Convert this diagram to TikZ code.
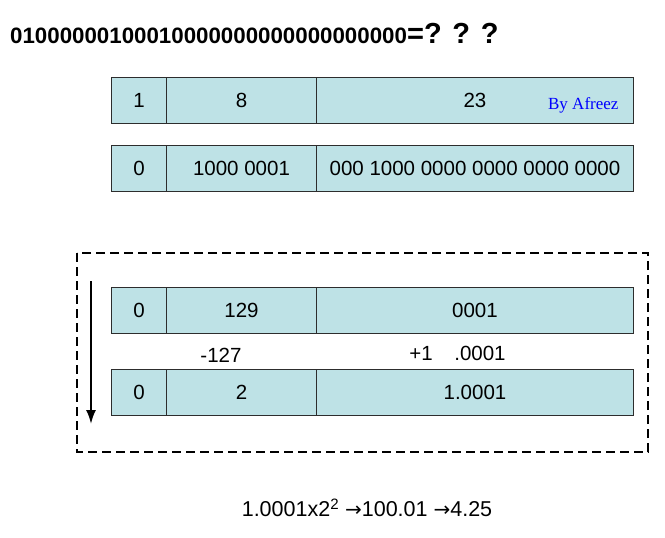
\documentclass[tikz,border=0pt]{standalone}
\usepackage{fontspec}
\setmainfont{Liberation Sans}
\newfontfamily\byfont{Liberation Serif}
\newfontfamily\arrowfont{DejaVu Sans}
\usetikzlibrary{arrows,arrows.meta}

\definecolor{cellblue}{RGB}{190,226,230}
\definecolor{celledge}{RGB}{45,45,45}

\begin{document}
\begin{tikzpicture}[>=latex,x=1pt,y=-1pt,
	cell/.style={draw=celledge,fill=cellblue,line width=1pt,inner sep=0pt,
		minimum height=46pt,anchor=north west,font=\fontsize{20.5}{24}\selectfont},
	note/.style={font=\fontsize{20.5}{24}\selectfont}]

\useasboundingbox (0,0) rectangle (665,538);

% title
\node[anchor=west,inner sep=0pt] (title) at (10,33)
	{\fontsize{22.3}{26}\bfseries\selectfont 01000000100010000000000000000000\fontsize{29}{31}\selectfont=? ? ?};

% the four rows: sign, exponent, mantissa
\foreach \r/\y/\s/\e/\m in {a/77/1/8/23,
		b/145/0/1000 0001/000 1000 0000 0000 0000 0000,
		c/287/0/129/0001,
		d/369/0/2/1.0001}{
	\node[cell,minimum width=55pt] (\r-s) at (111,\y) {\s};
	\node[cell,minimum width=150pt] (\r-e) at (166,\y) {\e};
	\node[cell,minimum width=317pt] (\r-m) at (316,\y) {\m};
}

\node[anchor=east,text=blue,font=\byfont\fontsize{17}{19}\selectfont] (credit) at (622,105) {By Afreez};

% working area
\draw[line width=1.8pt,dash pattern=on 9pt off 5pt] (77,253) rectangle (648,452);

\coordinate (flowtop) at (91,281);
\coordinate (flowend) at (91,424);
\draw[-{Latex[length=14pt,width=10pt]},line width=2pt] (flowtop)--(flowend);

\node[note] (bias) at (221,355) {-127};
\node[note] (one) at (421,353) {+1};
\node[note] (frac) at (480,353) {.0001};

% result
\node[font=\fontsize{21.5}{24}\selectfont] (result) at (367,508)
	{1.0001x2\textsuperscript{2} {\arrowfont\fontsize{20}{22}\selectfont →}100.01 {\arrowfont\fontsize{20}{22}\selectfont →}4.25};

\end{tikzpicture}
\end{document}
